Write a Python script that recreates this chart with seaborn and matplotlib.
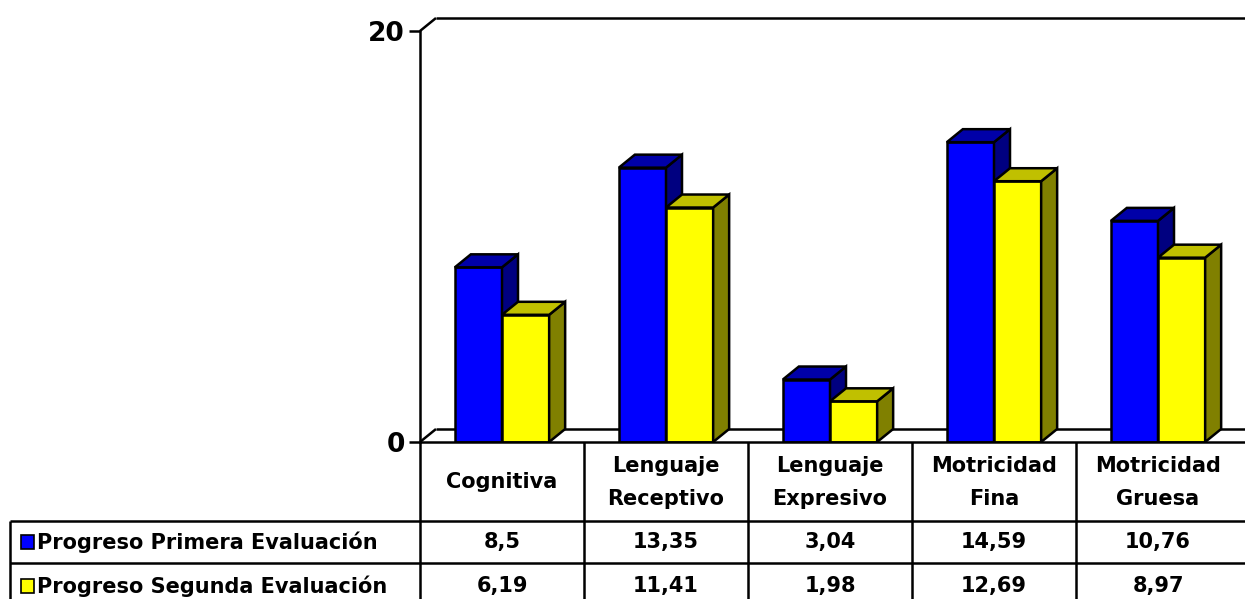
import matplotlib
matplotlib.use("Agg")
import matplotlib.pyplot as plt
import seaborn as sns
import pandas as pd
from matplotlib.patches import Polygon, Rectangle

# ---------------- data ----------------
categories = ["Cognitiva", "Lenguaje\nReceptivo", "Lenguaje\nExpresivo",
              "Motricidad\nFina", "Motricidad\nGruesa"]
series_names = ["Progreso Primera Evaluación", "Progreso Segunda Evaluación"]
primera = [8.5, 13.35, 3.04, 14.59, 10.76]
segunda = [6.19, 11.41, 1.98, 12.69, 8.97]
primera_labels = ["8,5", "13,35", "3,04", "14,59", "10,76"]
segunda_labels = ["6,19", "11,41", "1,98", "12,69", "8,97"]
y_ticks = [0, 20]

# ---------------- style ----------------
front_cols = ["#0000FF", "#FFFF00"]
top_cols = ["#0000A8", "#C0C000"]
side_cols = ["#000080", "#808000"]
LW = 1.8

sns.set_theme(style="white")
plt.rcParams["font.family"] = ["DejaVu Sans"]

W, H = 1245, 599
fig = plt.figure(figsize=(W / 100, H / 100), dpi=100)

# chart axes (pixel layout)
x_left, x_right, y_zero, y_top = 420, 1240, 442, 31
ax = fig.add_axes([x_left / W, (H - y_zero) / H, (x_right - x_left) / W, (y_zero - y_top) / H])

df = pd.DataFrame({
    "cat": categories * 2,
    "val": primera + segunda,
    "serie": [series_names[0]] * len(categories) + [series_names[1]] * len(categories),
})
sns.barplot(data=df, x="cat", y="val", hue="serie", palette=front_cols,
            width=0.575, saturation=1, edgecolor="black", linewidth=LW,
            legend=False, ax=ax, zorder=2)

ax.set_xlim(-0.5, 4.5)
ax.set_ylim(0, 20)

# depth offsets in data units
px_x = (x_right - x_left) / 5.0
px_y = (y_zero - y_top) / 20.0
dx = 16 / px_x
dy = 13 / px_y

n = len(categories)
bars = [p for p in ax.patches if isinstance(p, Rectangle)][: 2 * n]
for i, p in enumerate(bars):
    s = i // n
    z = 2 + s
    p.set_zorder(z)
    x0 = p.get_x()
    x1 = x0 + p.get_width()
    h = p.get_height()
    top = Polygon([(x0, h), (x0 + dx, h + dy), (x1 + dx, h + dy), (x1, h)],
                  closed=True, facecolor=top_cols[s], edgecolor="black",
                  linewidth=LW, zorder=z, joinstyle="miter")
    side = Polygon([(x1, 0), (x1 + dx, dy), (x1 + dx, h + dy), (x1, h)],
                   closed=True, facecolor=side_cols[s], edgecolor="black",
                   linewidth=LW, zorder=z, joinstyle="miter")
    ax.add_patch(side)
    ax.add_patch(top)

# walls / floor lines
kw = dict(color="black", lw=LW, clip_on=False, solid_capstyle="butt")
ax.plot([-0.5, -0.5 + dx], [20, 20 + dy], **kw, zorder=1)
ax.plot([-0.5 + dx, 4.6], [20 + dy, 20 + dy], **kw, zorder=1)
ax.plot([-0.5, -0.5 + dx], [0, dy], **kw, zorder=1)
ax.plot([-0.5 + dx, 4.6], [dy, dy], **kw, zorder=1)
ax.plot([-0.5, 4.6], [0, 0], **kw, zorder=6)

for sp in ["top", "right", "bottom"]:
    ax.spines[sp].set_visible(False)
ax.spines["left"].set_color("black")
ax.spines["left"].set_linewidth(LW)
ax.spines["left"].set_zorder(6)
ax.set_xticks([])
ax.set_xlabel("")
ax.set_ylabel("")
ax.set_yticks(y_ticks)
ax.set_yticklabels([str(t) for t in y_ticks], fontsize=19, fontweight="bold")
ax.tick_params(axis="y", direction="out", length=8, width=LW, pad=3,
               colors="black", left=True)
ax.patch.set_alpha(0)
ax.grid(False)

# ---------------- data table ----------------
tax = fig.add_axes([0, 0, 1, (H - y_zero) / H])
tax.set_xlim(0, W)
tax.set_ylim(H, y_zero)
tax.axis("off")
tkw = dict(color="black", lw=LW, clip_on=False, solid_capstyle="butt")
col_w = (x_right - x_left) / n
cols = [x_left + col_w * i for i in range(n + 1)]
row1_top, row2_top = 521, 563
tax.plot([10, W], [row1_top, row1_top], **tkw)
tax.plot([10, W], [row2_top, row2_top], **tkw)
tax.plot([10, 10], [row1_top, H + 2], **tkw)
for c in cols[:-1]:
    tax.plot([c, c], [y_zero, H + 2], **tkw)

tfont = dict(fontsize=15, fontweight="bold", color="black")
for i, cat in enumerate(categories):
    cx = (cols[i] + cols[i + 1]) / 2
    tax.text(cx, (y_zero + row1_top) / 2 + 1, cat, ha="center", va="center",
             linespacing=1.85, **tfont)
    tax.text(cx, (row1_top + row2_top) / 2, primera_labels[i], ha="center",
             va="center", **tfont)
    tax.text(cx, 586, segunda_labels[i], ha="center", va="center", **tfont)

rows_y = [(row1_top + row2_top) / 2, 586]
for s, name in enumerate(series_names):
    y = rows_y[s]
    tax.add_patch(Rectangle((21, y - 7), 13, 14, facecolor=front_cols[s],
                            edgecolor="black", lw=1.2, clip_on=False))
    tax.text(37, y, name, ha="left", va="center", **tfont)

fig.savefig("out.png", dpi=100)
